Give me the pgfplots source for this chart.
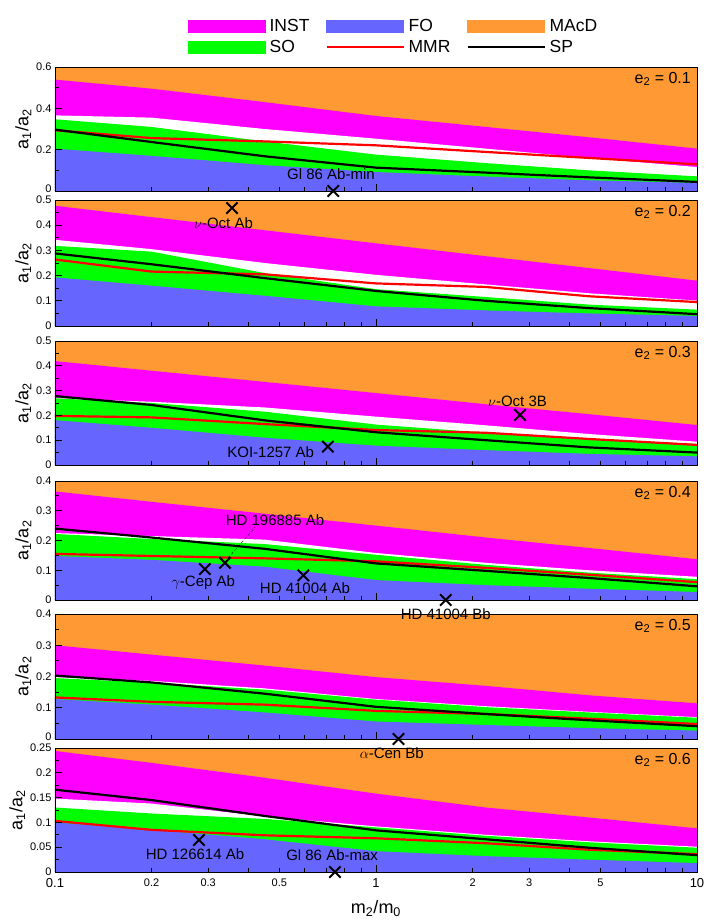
\documentclass[border=0pt]{standalone}
\usepackage{pgfplots}
\pgfplotsset{compat=1.18}
\usepackage{pgfplotstable}
\usepackage{fontspec}
\setmainfont{Liberation Sans}
\definecolor{macdc}{RGB}{255,153,51}
\definecolor{instc}{RGB}{255,0,255}
\definecolor{foc}{RGB}{102,102,255}
\definecolor{soc}{RGB}{0,255,0}

% columns: m2/m0, INST top, INST bottom, SO top, FO top, MMR, SP
\pgfplotstableread{
m    it    ib    so    fo    mmr   sp
0.1  0.539 0.366 0.347 0.205 0.294 0.297
0.2  0.495 0.355 0.310 0.170 0.256 0.237
0.45 0.430 0.300 0.240 0.125 0.240 0.168
1    0.363 0.253 0.176 0.092 0.221 0.113
2.2  0.310 0.205 0.135 0.070 0.189 0.089
4.6  0.260 0.160 0.100 0.052 0.160 0.066
10   0.205 0.116 0.071 0.039 0.129 0.044
}\tabA
\pgfplotstableread{
m    it    ib    so    fo    mmr   sp
0.1  0.477 0.342 0.318 0.193 0.264 0.288
0.2  0.432 0.305 0.295 0.160 0.216 0.245
0.45 0.380 0.250 0.210 0.120 0.205 0.190
1    0.328 0.203 0.146 0.078 0.169 0.139
2.2  0.277 0.165 0.115 0.062 0.155 0.100
4.6  0.230 0.130 0.085 0.050 0.118 0.071
10   0.180 0.101 0.065 0.040 0.095 0.047
}\tabB
\pgfplotstableread{
m    it    ib    so    fo    mmr   sp
0.1  0.419 0.270 0.269 0.181 0.198 0.278
0.2  0.380 0.255 0.250 0.150 0.192 0.242
0.45 0.335 0.232 0.215 0.110 0.165 0.180
1    0.290 0.195 0.163 0.078 0.141 0.132
2.2  0.245 0.160 0.130 0.060 0.130 0.100
4.6  0.205 0.125 0.105 0.045 0.105 0.071
10   0.161 0.094 0.085 0.035 0.081 0.050
}\tabC
\pgfplotstableread{
m    it    ib    so    fo    mmr   sp
0.1  0.365 0.225 0.222 0.148 0.155 0.240
0.2  0.330 0.215 0.205 0.135 0.148 0.210
0.45 0.290 0.203 0.188 0.112 0.140 0.172
1    0.250 0.158 0.152 0.067 0.130 0.123
2.2  0.210 0.125 0.118 0.050 0.108 0.098
4.6  0.175 0.100 0.092 0.038 0.085 0.074
10   0.137 0.078 0.070 0.027 0.060 0.046
}\tabD
\pgfplotstableread{
m    it    ib    so    fo    mmr   sp
0.1  0.300 0.198 0.195 0.128 0.133 0.203
0.2  0.270 0.186 0.180 0.110 0.119 0.181
0.45 0.235 0.162 0.158 0.085 0.110 0.145
1    0.198 0.128 0.126 0.056 0.090 0.103
2.2  0.170 0.105 0.102 0.045 0.080 0.080
4.6  0.140 0.087 0.085 0.035 0.065 0.060
10   0.114 0.070 0.068 0.027 0.048 0.041
}\tabE
\pgfplotstableread{
m    it    ib    so    fo    mmr   sp
0.1  0.244 0.148 0.130 0.100 0.103 0.166
0.2  0.220 0.138 0.118 0.085 0.085 0.145
0.45 0.190 0.112 0.107 0.066 0.074 0.113
1    0.158 0.092 0.090 0.042 0.068 0.084
2.2  0.130 0.075 0.073 0.032 0.058 0.066
4.6  0.110 0.062 0.060 0.025 0.045 0.049
10   0.088 0.051 0.049 0.018 0.036 0.034
}\tabF

\pgfplotsset{
  every axis/.append style={
    xmode=log, scale only axis, width=642pt,
    xmin=0.1, xmax=10, ymin=0,
    axis background/.style={fill=macdc},
    axis on top,
    xtick={0.1,1,10}, xticklabels={},
    minor xtick={0.2,0.3,0.4,0.5,0.6,0.7,0.8,0.9,2,3,4,5,6,7,8,9},
    tick align=inside, xtick pos=bottom, ytick pos=left,
    major tick length=7pt, minor tick length=4pt,
    axis line style={black, line width=0.8pt},
    tick label style={font=\fontsize{11}{13}\selectfont},
    ylabel={a\textsubscript{1}/a\textsubscript{2}},
    ylabel style={font=\fontsize{18}{20}\selectfont, yshift=-2pt},
    clip=false,
  },
  every tick/.append style={black, line width=0.8pt},
}
\tikzset{
  lab/.style={font=\fontsize{15}{17}\selectfont, inner sep=0pt},
  elab/.style={anchor=north east, xshift=-6pt, yshift=-5pt, font=\fontsize{16}{18}\selectfont, inner sep=0pt},
  xmk/.style={only marks, mark=x, mark size=8pt, black, mark options={solid, line width=2pt}},
}
\newcommand{\up}[1]{\raisebox{5pt}{#1}}
\newcommand{\dn}[1]{\raisebox{-5pt}{#1}}
\newcommand{\bands}[1]{%
  \addplot[fill=instc, draw=none] table[x=m,y=it]{#1} \closedcycle;
  \addplot[fill=white, draw=none] table[x=m,y=ib]{#1} \closedcycle;
  \addplot[fill=soc, draw=none] table[x=m,y=so]{#1} \closedcycle;
  \addplot[fill=foc, draw=none] table[x=m,y=fo]{#1} \closedcycle;
  \addplot[red, line width=2.2pt] table[x=m,y=mmr]{#1};
  \addplot[black, line width=2.2pt] table[x=m,y=sp]{#1};
}

\begin{document}
\begin{tikzpicture}
\useasboundingbox (-55pt,-922pt) rectangle (651pt,0pt);

% Panel 1
\begin{axis}[at={(0pt,-67pt)}, anchor=north west, height=124pt, ymax=0.6,
  ytick={0,0.2,0.4,0.6}, yticklabels={\up{0},0.2,0.4,0.6}, minor ytick={0.1,0.3,0.5},
  legend columns=3, legend cell align=left,
  legend style={draw=none, fill=none, at={(0.2025,1)}, anchor=south west, yshift=9pt,
    font=\fontsize{17.5}{20}\selectfont, row sep=3pt,
    /tikz/every even column/.append style={column sep=14pt},
    /tikz/every odd column/.append style={column sep=2pt}}]
\addlegendimage{legend image code/.code={\fill[instc] (0pt,-6pt) rectangle (77pt,6pt);}}\addlegendentry{INST}
\addlegendimage{legend image code/.code={\fill[foc] (0pt,-6pt) rectangle (77pt,6pt);}}\addlegendentry{FO}
\addlegendimage{legend image code/.code={\fill[macdc] (0pt,-6pt) rectangle (77pt,6pt);}}\addlegendentry{MAcD}
\addlegendimage{legend image code/.code={\fill[soc] (0pt,-6pt) rectangle (77pt,6pt);}}\addlegendentry{SO}
\addlegendimage{legend image code/.code={\draw[red, line width=2.2pt] (0pt,0pt) -- (77pt,0pt);}}\addlegendentry{MMR}
\addlegendimage{legend image code/.code={\draw[black, line width=2.2pt] (0pt,0pt) -- (77pt,0pt);}}\addlegendentry{SP}
\bands{\tabA}
\addplot[xmk] coordinates {(0.736,0)};
\node[lab] at (axis cs:0.724,0.08) {Gl 86 Ab-min};
\node[elab] at (rel axis cs:1,1) {e\textsubscript{2} = 0.1};
\end{axis}

% Panel 2
\begin{axis}[at={(0pt,-200pt)}, anchor=north west, height=126pt, ymax=0.5,
  ytick={0,0.1,0.2,0.3,0.4,0.5}, yticklabels={0,0.1,0.2,0.3,0.4,\dn{0.5}},
  minor ytick={0.05,0.15,0.25,0.35,0.45}]
\bands{\tabB}
\addplot[xmk] coordinates {(0.356,0.468)};
\node[lab] at (axis cs:0.335,0.41) {$\nu$-Oct Ab};
\node[elab] at (rel axis cs:1,1) {e\textsubscript{2} = 0.2};
\end{axis}

% Panel 3
\begin{axis}[at={(0pt,-341pt)}, anchor=north west, height=124pt, ymax=0.5,
  ytick={0,0.1,0.2,0.3,0.4,0.5}, yticklabels={0,0.1,0.2,0.3,0.4,0.5},
  minor ytick={0.05,0.15,0.25,0.35,0.45}]
\bands{\tabC}
\addplot[xmk] coordinates {(0.708,0.074) (2.81,0.202)};
\node[lab] at (axis cs:0.47,0.05) {KOI-1257 Ab};
\node[lab] at (axis cs:2.76,0.255) {$\nu$-Oct 3B};
\node[elab] at (rel axis cs:1,1) {e\textsubscript{2} = 0.3};
\end{axis}

% Panel 4
\begin{axis}[at={(0pt,-481pt)}, anchor=north west, height=119pt, ymax=0.4,
  ytick={0,0.1,0.2,0.3,0.4}, yticklabels={0,0.1,0.2,0.3,0.4},
  minor ytick={0.05,0.15,0.25,0.35}]
\bands{\tabD}
\draw[black, densely dashed, line width=0.4pt] (axis cs:0.346,0.141) -- (axis cs:0.42,0.244);
\addplot[xmk] coordinates {(0.293,0.104) (0.3385,0.125) (0.594,0.083) (1.65,0)};
\node[lab] at (axis cs:0.29,0.057) {$\gamma$-Cep Ab};
\node[lab] at (axis cs:0.4845,0.27) {HD 196885 Ab};
\node[lab] at (axis cs:0.601,0.04) {HD 41004 Ab};
\node[elab] at (rel axis cs:1,1) {e\textsubscript{2} = 0.4};
\end{axis}

% Panel 5
\begin{axis}[at={(0pt,-614pt)}, anchor=north west, height=125pt, ymax=0.4,
  ytick={0,0.1,0.2,0.3,0.4}, yticklabels={\up{0},0.1,0.2,0.3,0.4},
  minor ytick={0.05,0.15,0.25,0.35}]
\bands{\tabE}
\addplot[xmk] coordinates {(1.175,0)};
\node[lab] at (axis cs:1.65,0.4) {HD 41004 Bb};
\node[elab] at (rel axis cs:1,1) {e\textsubscript{2} = 0.5};
\end{axis}

% Panel 6
\begin{axis}[at={(0pt,-748pt)}, anchor=north west, height=124pt, ymax=0.25,
  ytick={0,0.05,0.1,0.15,0.2,0.25}, yticklabels={0,0.05,0.1,0.15,0.2,\dn{0.25}},
  minor ytick={0.025,0.075,0.125,0.175,0.225},
  xticklabels={0.1,1,10},
  xticklabel style={font=\fontsize{13}{15}\selectfont, yshift=-3pt},
  extra x ticks={0.2,0.3,0.5,2,3,5},
  extra x tick labels={0.2,0.3,0.5,2,3,5},
  extra x tick style={major tick length=4pt, xticklabel style={font=\fontsize{11}{13}\selectfont}},
  xlabel={m\textsubscript{2}/m\textsubscript{0}},
  xlabel style={font=\fontsize{18}{20}\selectfont, yshift=-6pt}]
\bands{\tabF}
\addplot[xmk] coordinates {(0.281,0.0645) (0.745,0)};
\node[lab] at (axis cs:1.12,0.24) {$\alpha$-Cen Bb};
\node[lab] at (axis cs:0.273,0.036) {HD 126614 Ab};
\node[lab] at (axis cs:0.73,0.034) {Gl 86 Ab-max};
\node[elab] at (rel axis cs:1,1) {e\textsubscript{2} = 0.6};
\end{axis}
\end{tikzpicture}
\end{document}
